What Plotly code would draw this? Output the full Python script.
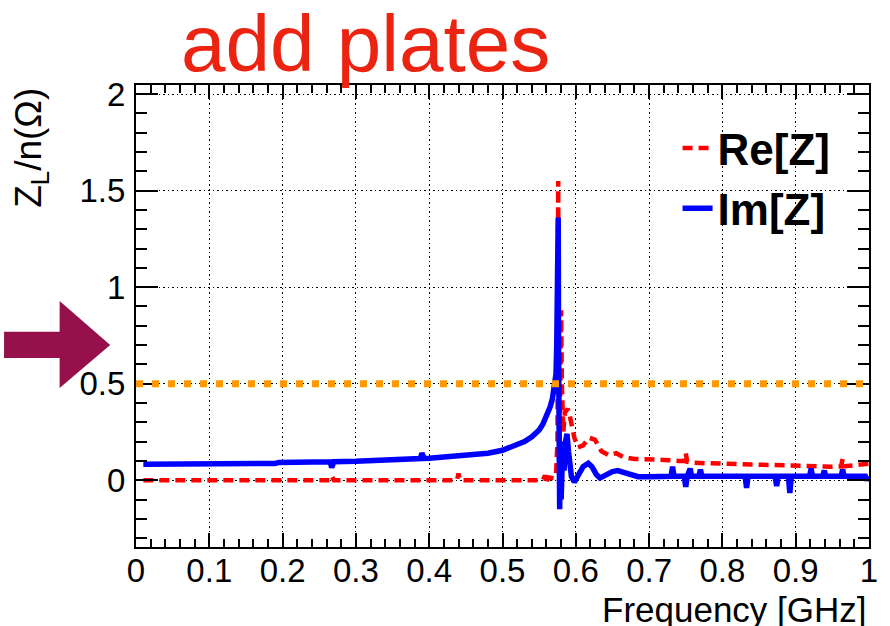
import plotly.graph_objects as go

# ---------------- data ----------------
freq_im = [0.01, 0.05, 0.10, 0.15, 0.19, 0.195, 0.25, 0.265, 0.267, 0.27, 0.30, 0.35,
           0.388, 0.39, 0.393, 0.40, 0.42, 0.45, 0.48, 0.50, 0.52, 0.53, 0.54, 0.55,
           0.555, 0.56, 0.565, 0.568, 0.571, 0.573, 0.574, 0.575, 0.576, 0.5765, 0.577,
           0.578, 0.579, 0.580, 0.582, 0.584, 0.586, 0.588, 0.590, 0.594, 0.598, 0.603,
           0.610, 0.617, 0.622, 0.628, 0.633, 0.640, 0.650, 0.657, 0.665, 0.675, 0.685,
           0.700, 0.715, 0.730, 0.732, 0.734, 0.748, 0.750, 0.752, 0.756, 0.758, 0.768,
           0.770, 0.772, 0.790, 0.810, 0.831, 0.833, 0.835, 0.850, 0.872, 0.874, 0.876,
           0.890, 0.892, 0.894, 0.905, 0.919, 0.921, 0.923, 0.937, 0.939, 0.941, 0.950,
           0.962, 0.964, 0.966, 0.980, 0.995, 0.997, 1.0]
im_z = [0.083, 0.083, 0.084, 0.085, 0.087, 0.092, 0.094, 0.095, 0.065, 0.096, 0.098, 0.104,
        0.112, 0.14, 0.113, 0.114, 0.12, 0.126, 0.14, 0.155, 0.18, 0.20, 0.225, 0.26,
        0.29, 0.33, 0.38, 0.42, 0.48, 0.55, 0.70, 0.95, 1.36, 0.70, 0.30,
        -0.15, 0.20, -0.10, 0.15, 0.05, 0.20, 0.24, 0.15, 0.02, -0.01, 0.03,
        0.07, 0.088, 0.07, 0.03, 0.012, 0.025, 0.045, 0.05, 0.04, 0.025, 0.018,
        0.018, 0.02, 0.02, 0.07, 0.02, 0.02, -0.035, 0.02, 0.06, 0.02, 0.02,
        0.055, 0.02, 0.02, 0.018, 0.02, -0.04, 0.02, 0.02, 0.02, -0.03, 0.02,
        0.02, -0.066, 0.02, 0.02, 0.02, 0.06, 0.02, 0.02, 0.05, 0.02, 0.02,
        0.02, 0.055, 0.02, 0.02, 0.02, 0.0, 0.02]

freq_re = [0.01, 0.10, 0.20, 0.265, 0.267, 0.27, 0.35, 0.438, 0.44, 0.442, 0.50, 0.555,
           0.558, 0.560, 0.562, 0.570, 0.573, 0.575, 0.576, 0.5765, 0.577, 0.578, 0.579,
           0.580, 0.581, 0.582, 0.583, 0.585, 0.589, 0.592, 0.595, 0.598, 0.603, 0.610,
           0.618, 0.626, 0.635, 0.645, 0.655, 0.665, 0.680, 0.700, 0.720, 0.740, 0.748,
           0.750, 0.752, 0.760, 0.800, 0.850, 0.900, 0.950, 0.962, 0.964, 0.966, 0.980, 1.0]
re_z = [0.0, 0.0, 0.0, 0.0, 0.02, 0.0, 0.0, 0.0, 0.035, 0.0, 0.0, 0.0,
        0.025, -0.02, 0.015, 0.01, 0.03, 0.20, 1.55, 0.30, 0.05, 0.20, 0.50,
        0.88, 0.50, 0.30, 0.25, 0.35, 0.37, 0.33, 0.27, 0.22, 0.17, 0.18,
        0.22, 0.21, 0.15, 0.13, 0.14, 0.12, 0.11, 0.11, 0.105, 0.10, 0.10,
        0.14, 0.095, 0.09, 0.085, 0.078, 0.072, 0.07, 0.072, 0.11, 0.072, 0.075, 0.085]

threshold = 0.5
x_ticks = [0, 0.1, 0.2, 0.3, 0.4, 0.5, 0.6, 0.7, 0.8, 0.9, 1]
x_tick_labels = ["0", "0.1", "0.2", "0.3", "0.4", "0.5", "0.6", "0.7", "0.8", "0.9", "1"]
y_ticks = [0, 0.5, 1, 1.5, 2]
y_tick_labels = ["0", "0.5", "1", "1.5", "2"]

# ---------------- layout geometry ----------------
W, H = 890, 626
L, R, T, B = 136, 15, 85, 79
PW, PH = W - L - R, H - T - B


def px(xp):
    return (xp - L) / PW


def py(yp):
    return (H - B - yp) / PH


FONT = "Liberation Sans, Arial, sans-serif"

fig = go.Figure()
fig.add_trace(go.Scatter(x=freq_re, y=re_z, mode="lines", name="Re[Z]",
                         line=dict(color="#ff0000", width=4.5, dash="10px,6px")))
fig.add_trace(go.Scatter(x=freq_im, y=im_z, mode="lines", name="Im[Z]",
                         line=dict(color="#0000ff", width=5.5)))

# threshold line
fig.add_shape(type="line", xref="paper", yref="y", x0=0, x1=1, y0=threshold, y1=threshold,
              line=dict(color="#ff9900", width=7, dash="7px,9px"), layer="above")

# arrow
pts = [(3, 331.7), (59, 331.7), (59, 301), (110, 345), (59, 388), (59, 358), (3, 358)]
path = "M " + " L ".join(f"{px(a):.4f},{py(b):.4f}" for a, b in pts) + " Z"
fig.add_shape(type="path", xref="paper", yref="paper", path=path,
              fillcolor="#96114c", line=dict(width=0))

# title
fig.add_annotation(text="add plates", xref="paper", yref="paper", x=px(367), y=py(44),
                   xanchor="center", yanchor="middle", showarrow=False,
                   font=dict(family=FONT, size=80, color="#ec2311"))
# y title
fig.add_annotation(text="Z<sub>L</sub>/n(Ω)", xref="paper", yref="paper", x=px(30), y=py(86),
                   xanchor="center", yanchor="top", textangle=-90, showarrow=False,
                   font=dict(family=FONT, size=37, color="black"))
# x title
fig.add_annotation(text="Frequency [GHz]", xref="paper", yref="paper", x=1.0, y=py(609),
                   xanchor="right", yanchor="middle", showarrow=False,
                   font=dict(family=FONT, size=35, color="black"))

fig.update_layout(
    width=W, height=H, margin=dict(l=L, r=R, t=T, b=B),
    paper_bgcolor="white", plot_bgcolor="white",
    showlegend=True,
    legend=dict(x=px(682), y=py(113), xanchor="left", yanchor="top",
                font=dict(family="Liberation Sans, Arial", size=44, color="black", weight="bold"),
                bgcolor="rgba(0,0,0,0)", borderwidth=0, tracegroupgap=0),
    xaxis=dict(range=[0, 1], tickvals=x_ticks, ticktext=x_tick_labels,
               ticks="inside", ticklen=14, tickwidth=1.5, tickcolor="black",
               minor=dict(ticks="inside", dtick=0.02, ticklen=8, tickwidth=1.5, tickcolor="black",
                          showgrid=False),
               showline=True, linecolor="black", linewidth=2, mirror="allticks",
               showgrid=True, gridcolor="black", gridwidth=1.2, griddash="1.5px,3px",
               zeroline=False, ticklabelstandoff=-7,
               tickfont=dict(family=FONT, size=33, color="black")),
    yaxis=dict(range=[-0.346, 2.047], tickvals=y_ticks, ticktext=y_tick_labels,
               ticks="inside", ticklen=22, tickwidth=1.5, tickcolor="black",
               minor=dict(ticks="inside", dtick=0.1, ticklen=11, tickwidth=1.5, tickcolor="black",
                          showgrid=False),
               showline=True, linecolor="black", linewidth=2, mirror="allticks",
               showgrid=True, gridcolor="black", gridwidth=1.2, griddash="1.5px,3px",
               zeroline=False, ticklabelstandoff=2,
               tickfont=dict(family=FONT, size=33, color="black")),
)

fig.write_html("out.html")
